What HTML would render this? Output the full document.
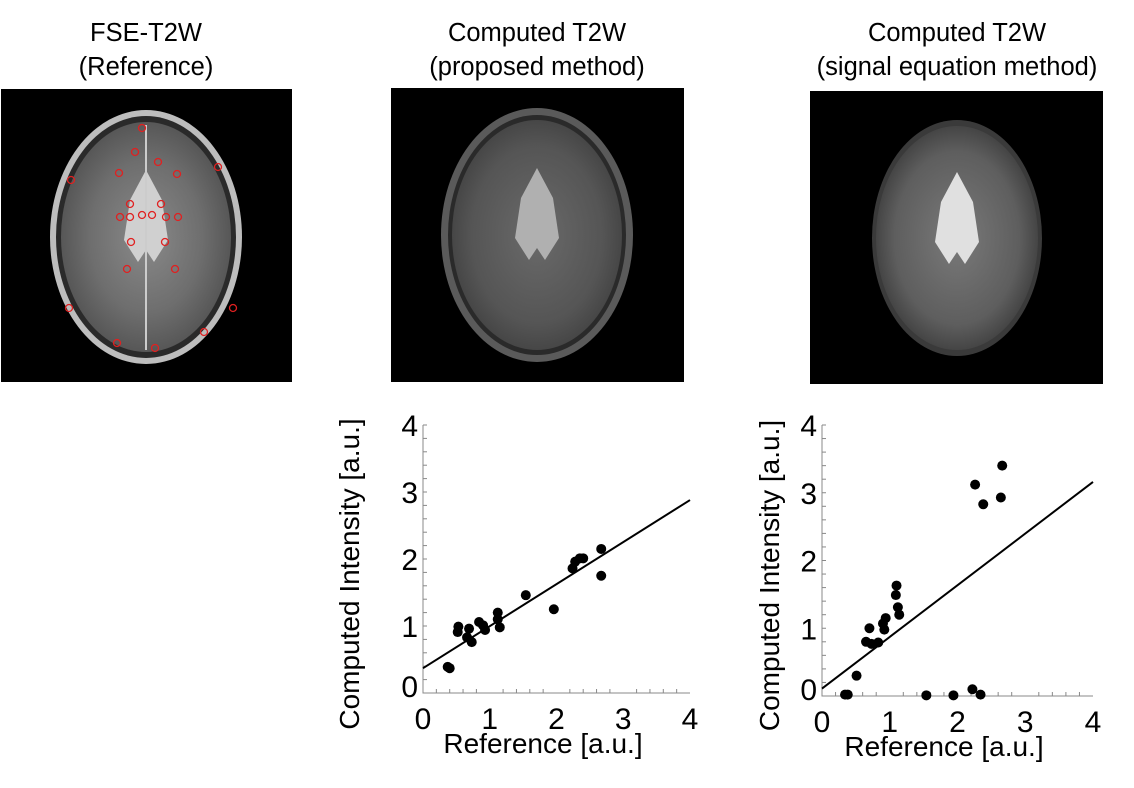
<!DOCTYPE html>
<html><head><meta charset="utf-8"><style>
body{margin:0;background:#fff;width:1134px;height:783px;overflow:hidden;font-family:"Liberation Sans",Arial,sans-serif}
svg text{font-family:"Liberation Sans",Arial,sans-serif}
</style></head><body>
<svg id="fig" width="1134" height="783" viewBox="0 0 1134 783">
<defs>
<radialGradient id="bg1" cx="50%" cy="50%" r="55%"><stop offset="0" stop-color="#8a8a8a"/><stop offset="0.6" stop-color="#6e6e6e"/><stop offset="1" stop-color="#505050"/></radialGradient>
<radialGradient id="bg2" cx="50%" cy="50%" r="55%"><stop offset="0" stop-color="#6a6a6a"/><stop offset="0.7" stop-color="#555"/><stop offset="1" stop-color="#404040"/></radialGradient>
<radialGradient id="bg3" cx="50%" cy="50%" r="55%"><stop offset="0" stop-color="#7a7a7a"/><stop offset="0.7" stop-color="#5e5e5e"/><stop offset="1" stop-color="#3a3a3a"/></radialGradient>
</defs>
<g font-size="25.5" text-anchor="middle" fill="#000">
<text x="146" y="41">FSE-T2W</text>
<text x="146" y="75">(Reference)</text>
<text x="537" y="41">Computed T2W</text>
<text x="537" y="75">(proposed method)</text>
<text x="957" y="41">Computed T2W</text>
<text x="957" y="75">(signal equation method)</text>
</g>
<g>
<rect x="1" y="89" width="291" height="293" fill="#000"/>
<ellipse cx="146" cy="237" rx="96" ry="127" fill="#bdbdbd"/>
<ellipse cx="146" cy="237" rx="90" ry="121" fill="#2a2a2a"/>
<ellipse cx="146" cy="237" rx="85" ry="115" fill="url(#bg1)"/>
<path d="M146 170 L130 200 L124 240 L138 262 L146 250 L154 262 L168 240 L162 200 Z" fill="#d0d0d0"/>
<line x1="146" y1="125" x2="146" y2="350" stroke="#ccc" stroke-width="2"/>
</g>
<g>
<rect x="391" y="88" width="293" height="294" fill="#000"/>
<ellipse cx="537" cy="235" rx="96" ry="127" fill="#5a5a5a"/>
<ellipse cx="537" cy="235" rx="89" ry="120" fill="#2a2a2a"/>
<ellipse cx="537" cy="235" rx="85" ry="115" fill="url(#bg2)"/>
<path d="M537 168 L521 198 L515 238 L529 260 L537 248 L545 260 L559 238 L553 198 Z" fill="#b0b0b0"/>
</g>
<g>
<rect x="810" y="91" width="293" height="293" fill="#000"/>
<ellipse cx="957" cy="238" rx="85" ry="118" fill="#3a3a3a"/>
<ellipse cx="957" cy="238" rx="81" ry="112" fill="url(#bg3)"/>
<path d="M957 172 L941 202 L935 242 L949 264 L957 252 L965 264 L979 242 L973 202 Z" fill="#e0e0e0"/>
</g>
<g id="rois"></g>
<g id="plot1"></g>
<g id="plot2"></g>
</svg>
<script>
const roiX=[142,135,158,119,177,218,71,130,161,120,130,142,152,166,178,131,165,127,175,69,233,204,117,155];
const roiY=[128,152,162,173,174,167,180,204,204,217,217,215,215,217,217,242,242,269,269,308,308,332,343,348];
const refP=[0.37,0.40,0.52,0.53,0.66,0.69,0.73,0.84,0.93,0.90,1.12,1.12,1.15,1.54,1.96,2.24,2.28,2.35,2.40,2.67,2.67];
const compP=[0.39,0.37,0.91,0.99,0.83,0.96,0.76,1.06,0.94,1.01,1.20,1.10,0.98,1.46,1.25,1.86,1.96,2.01,2.01,2.15,1.75];
const fitP=[0.37,2.88];
const refS=[0.34,0.38,0.51,0.65,0.70,0.73,0.83,0.92,0.90,0.94,1.09,1.10,1.12,1.14,1.54,1.94,2.22,2.34,2.26,2.38,2.64,2.66];
const compS=[0.02,0.02,0.30,0.80,1.00,0.77,0.79,0.98,1.07,1.15,1.49,1.63,1.31,1.20,0.01,0.01,0.10,0.02,3.12,2.83,2.93,3.40];
const fitS=[0.11,3.16];
const tickLabels=["0","1","2","3","4"];
const NS="http://www.w3.org/2000/svg";
function mk(t,a,p){const e=document.createElementNS(NS,t);for(const k in a)e.setAttribute(k,a[k]);p.appendChild(e);return e;}
const rg=document.getElementById('rois');
roiX.forEach((x,i)=>{const c=mk('circle',{cx:x,cy:roiY[i],r:3.5,fill:'none',stroke:'#e02020','stroke-width':1.3},rg);

});
function plot(gid,x0,x1,y0,y1,xs,ys,fit,ylabX,xlabC){
 const g=document.getElementById(gid);
 const sx=v=>x0+(x1-x0)*v/4, sy=v=>y0-(y0-y1)*v/4;
 const ax=mk('path',{d:`M${x0} ${y1} V${y0} H${x1}`,fill:'none',stroke:'#888','stroke-width':1},g);
 
 
 for(let i=1;i<=20;i++){const v=i*0.2;
  mk('line',{x1:sx(v),y1:y0,x2:sx(v),y2:y0-(i%5==0?0:4),stroke:'#888'},g);
  mk('line',{x1:x0,y1:sy(v),x2:x0+4,y2:sy(v),stroke:'#888'},g);}
 tickLabels.forEach((t,i)=>{
  const a=mk('text',{x:sx(i),y:y0+36,'font-size':30,'text-anchor':'middle'},g);a.textContent=t;
  
  
  const b=mk('text',{x:x0-5,y:sy(i)+(i==0?4:11),'font-size':30,'text-anchor':'end'},g);b.textContent=t;
  
  });
 const xl=mk('text',{x:xlabC,y:y0+60,'font-size':28,'text-anchor':'middle'},g);xl.textContent='Reference [a.u.]';
 
 
 const yl=mk('text',{x:0,y:0,'font-size':28,'text-anchor':'middle',transform:`translate(${ylabX},${(y0+y1)/2+15}) rotate(-90)`},g);yl.textContent='Computed Intensity [a.u.]';
 
 
 const fl=mk('line',{x1:sx(0),y1:sy(fit[0]),x2:sx(4),y2:sy(fit[1]),stroke:'#000','stroke-width':2},g);
 
 
 xs.forEach((v,i)=>{const c=mk('circle',{cx:sx(v),cy:sy(ys[i]),r:5,fill:'#000'},g);
  
  });
}
plot('plot1',423,690,693,425,refP,compP,fitP,359,543);
plot('plot2',822,1093,696,425,refS,compS,fitS,779,944);
</script>
</body></html>
